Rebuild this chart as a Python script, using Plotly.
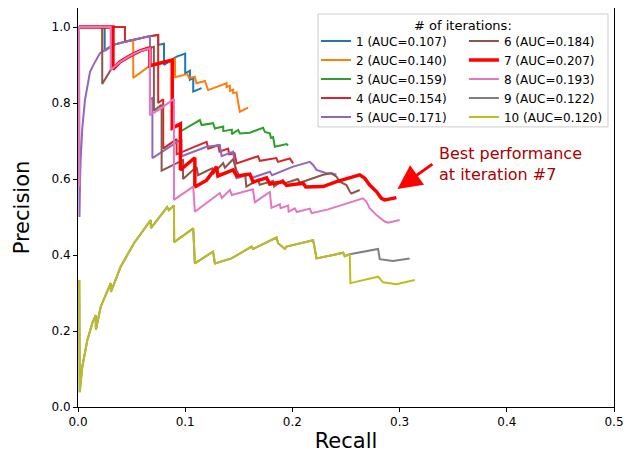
import plotly.graph_objects as go

auc = ["0.107", "0.140", "0.159", "0.154", "0.171", "0.184", "0.207", "0.193", "0.122", "0.120"]
colors = ["#1f77b4", "#ff7f0e", "#2ca02c", "#d62728", "#9467bd",
          "#8c564b", "#ff0000", "#e377c2", "#7f7f7f", "#bcbd22"]

r1 = [0.0009,0.0249,0.0249,0.0329,0.0438,0.0515,0.0597,0.0671,0.0748,0.0748,0.0802,0.0802,0.092,0.1,0.1,0.1044,0.1044,0.1075,0.1075,0.1153]
p1 = [1.0,1.0,0.937,0.953,0.961,0.966,0.972,0.976,0.979,0.953,0.956,0.90,0.922,0.93,0.878,0.885,0.861,0.866,0.83,0.839]

r2 = [0.0009,0.0226,0.0226,0.0329,0.0438,0.0515,0.0515,0.0671,0.0879,0.0905,0.0905,0.102,0.1035,0.109,0.1105,0.1184,0.1214,0.1386,0.1386,0.1417,0.1417,0.1447,0.1447,0.1479,0.1495,0.151,0.1587]
p2 = [1.0,1.0,0.935,0.953,0.961,0.966,0.866,0.898,0.913,0.916,0.868,0.876,0.866,0.869,0.852,0.858,0.834,0.852,0.842,0.845,0.832,0.835,0.826,0.828,0.80,0.777,0.788]

r3 = [0.0009,0.0326,0.0326,0.039,0.0485,0.0578,0.0655,0.0671,0.0671,0.0879,0.0879,0.0955,0.0955,0.1137,0.1153,0.126,0.1277,0.1355,0.1355,0.1435,0.1435,0.1494,0.151,0.1603,0.1727,0.1743,0.179,0.18,0.182,0.1836,0.1945,0.196]
p3 = [1.0,1.0,0.889,0.908,0.924,0.937,0.944,0.944,0.898,0.913,0.734,0.745,0.725,0.755,0.742,0.747,0.733,0.738,0.726,0.73,0.718,0.729,0.72,0.722,0.735,0.724,0.72,0.708,0.71,0.685,0.692,0.688]

r4 = [0.0009,0.0438,0.0438,0.0515,0.0597,0.0671,0.0748,0.0748,0.0795,0.0795,0.092,0.092,0.109,0.12,0.1215,0.1308,0.132,0.14,0.141,0.146,0.1479,0.168,0.1696,0.185,0.1865,0.1976,0.2007]
p4 = [1.0,1.0,0.961,0.966,0.972,0.976,0.979,0.80,0.81,0.68,0.705,0.665,0.685,0.698,0.68,0.689,0.672,0.68,0.665,0.668,0.641,0.66,0.648,0.655,0.645,0.654,0.641]

r5 = [0.0009,0.0014,0.0019,0.0025,0.004,0.0065,0.0087,0.0112,0.0149,0.0205,0.0226,0.0329,0.0438,0.0515,0.0597,0.0671,0.0671,0.0694,0.0694,0.0966,0.0966,0.1075,0.12,0.1323,0.134,0.1447,0.1479,0.16,0.162,0.179,0.181,0.2,0.2163,0.2193,0.2225,0.2317,0.2364,0.2411]
p5 = [1.0,0.5,0.597,0.65,0.734,0.808,0.848,0.882,0.903,0.931,0.935,0.953,0.961,0.966,0.972,0.976,0.81,0.813,0.655,0.705,0.66,0.672,0.685,0.689,0.66,0.672,0.602,0.612,0.603,0.619,0.61,0.632,0.645,0.637,0.624,0.615,0.615,0.611]

r6 = [0.0009,0.0226,0.0226,0.0305,0.039,0.0485,0.0578,0.0655,0.0708,0.0708,0.078,0.078,0.098,0.098,0.1106,0.112,0.125,0.1265,0.1354,0.137,0.1447,0.1463,0.148,0.151,0.156,0.157,0.168,0.1695,0.182,0.183,0.191,0.1925,0.205,0.207,0.2286,0.2364,0.2411,0.2442,0.2504,0.2535,0.255,0.2628]
p6 = [1.0,1.0,0.85,0.887,0.908,0.924,0.937,0.944,0.948,0.78,0.795,0.622,0.65,0.60,0.632,0.61,0.628,0.615,0.642,0.63,0.652,0.637,0.622,0.606,0.612,0.58,0.598,0.585,0.595,0.58,0.597,0.588,0.6,0.59,0.611,0.615,0.606,0.593,0.584,0.567,0.562,0.571]

r7 = [0.0009,0.0326,0.0326,0.039,0.0485,0.0578,0.0655,0.0671,0.0671,0.0879,0.0879,0.0955,0.0955,0.109,0.109,0.12,0.1292,0.1305,0.1447,0.1479,0.1603,0.1634,0.1759,0.1789,0.1913,0.1945,0.21,0.2125,0.2286,0.2411,0.2628,0.2675,0.2721,0.2784,0.283,0.2861,0.2938,0.297]
p7 = [1.0,1.0,0.889,0.908,0.924,0.937,0.944,0.944,0.898,0.913,0.734,0.745,0.624,0.656,0.579,0.597,0.632,0.608,0.624,0.608,0.613,0.592,0.603,0.587,0.593,0.583,0.589,0.579,0.58,0.593,0.611,0.602,0.584,0.567,0.549,0.545,0.549,0.551]

r8 = [0.0012,0.0009,0.0305,0.0305,0.0391,0.0485,0.0578,0.0655,0.0671,0.0671,0.0764,0.0895,0.0895,0.1075,0.109,0.1323,0.1342,0.1417,0.1435,0.1631,0.165,0.1789,0.1805,0.1883,0.189,0.196,0.1965,0.2022,0.2041,0.2163,0.2179,0.2333,0.2659,0.269,0.2721,0.2784,0.2861,0.2892,0.3001]
p8 = [0.58,1.0,1.0,0.887,0.908,0.924,0.937,0.944,0.944,0.768,0.784,0.811,0.545,0.58,0.514,0.563,0.55,0.571,0.558,0.573,0.539,0.566,0.524,0.534,0.523,0.53,0.514,0.523,0.513,0.522,0.51,0.52,0.549,0.54,0.523,0.505,0.488,0.485,0.492]

r9 = [0.0012,0.0016,0.004,0.0087,0.0133,0.0165,0.0167,0.0212,0.0305,0.0307,0.0398,0.0522,0.0678,0.068,0.0832,0.0848,0.0895,0.0897,0.1075,0.109,0.126,0.1277,0.1432,0.1619,0.1634,0.1852,0.1867,0.1929,0.1945,0.2193,0.2209,0.2225,0.2379,0.2473,0.2488,0.2535,0.2799,0.2815,0.2938,0.3094]
p9 = [0.334,0.039,0.106,0.176,0.22,0.242,0.203,0.264,0.326,0.303,0.369,0.431,0.492,0.471,0.526,0.518,0.53,0.434,0.47,0.378,0.409,0.378,0.391,0.422,0.416,0.446,0.431,0.416,0.422,0.439,0.416,0.391,0.4,0.406,0.397,0.402,0.416,0.389,0.384,0.391]

r10 = [0.0012,0.0016,0.004,0.0087,0.0133,0.0165,0.0167,0.0212,0.0305,0.0307,0.0398,0.0522,0.0678,0.068,0.0832,0.0848,0.0895,0.0897,0.1075,0.109,0.126,0.1277,0.1432,0.1619,0.1634,0.1852,0.1867,0.1929,0.1945,0.2193,0.2209,0.2225,0.2379,0.2473,0.2488,0.2535,0.2541,0.2799,0.2845,0.297,0.3141]
p10 = [0.334,0.039,0.106,0.176,0.22,0.242,0.203,0.264,0.326,0.303,0.369,0.431,0.492,0.471,0.526,0.518,0.53,0.434,0.47,0.378,0.409,0.378,0.391,0.422,0.416,0.446,0.431,0.416,0.422,0.439,0.416,0.391,0.4,0.406,0.397,0.402,0.326,0.343,0.328,0.323,0.334]

recalls = [r1, r2, r3, r4, r5, r6, r7, r8, r9, r10]
precisions = [p1, p2, p3, p4, p5, p6, p7, p8, p9, p10]

FONT = "DejaVu Sans"
fig = go.Figure()
for i in range(10):
    fig.add_trace(go.Scatter(
        x=recalls[i], y=precisions[i], mode="lines",
        name=f"{i+1} (AUC={auc[i]})",
        line=dict(color=colors[i], width=3.5 if i == 6 else 2),
        legend="legend" if i < 5 else "legend2",
        hoverinfo="skip",
    ))

legend_common = dict(
    bgcolor="rgba(0,0,0,0)", borderwidth=0,
    font=dict(family=FONT, size=12, color="black"),
    xanchor="left", yanchor="middle", y=0.822,
    traceorder="normal", tracegroupgap=0,
)
# the page body adds an 8px offset, so the figure is 8px smaller in each direction
fig.update_layout(
    width=628, height=451,
    margin=dict(l=70, r=22, t=0, b=52, autoexpand=False),
    plot_bgcolor="white", paper_bgcolor="white",
    font=dict(family=FONT, size=12, color="black"),
    showlegend=True,
    legend=dict(x=0.444, **legend_common),
    legend2=dict(x=0.720, **legend_common),
    xaxis=dict(range=[0, 0.5], dtick=0.1, tickformat=".1f", automargin=False,
               ticks="outside", ticklen=4, tickcolor="black",
               showline=True, linecolor="black", linewidth=1, mirror=True,
               showgrid=False, zeroline=False,
               tickfont=dict(size=12),
               title=dict(text="Recall", font=dict(size=21), standoff=4)),
    yaxis=dict(range=[0, 1.05], dtick=0.2, tickformat=".1f", automargin=False,
               ticks="outside", ticklen=4, tickcolor="black",
               showline=True, linecolor="black", linewidth=1, mirror=True,
               showgrid=False, zeroline=False,
               tickfont=dict(size=12),
               title=dict(text="Precision", font=dict(size=21), standoff=16)),
)

# legend frame and title
fig.add_shape(type="rect", xref="paper", yref="paper",
              x0=0.4478, x1=0.9888, y0=0.702, y1=0.985,
              line=dict(color="#cccccc", width=1),
              fillcolor="rgba(255,255,255,0.8)", layer="above")
fig.add_annotation(text="# of iterations:", xref="paper", yref="paper",
                   x=0.718, y=0.957, xanchor="center", yanchor="middle",
                   showarrow=False, font=dict(family=FONT, size=13, color="black"))

# best performance annotation
fig.add_annotation(x=0.298, y=0.574, ax=0.332, ay=0.642,
                   xref="x", yref="y", axref="x", ayref="y",
                   text="", showarrow=True, arrowhead=2, arrowsize=1.6,
                   arrowwidth=3, arrowcolor="#ff0000")
fig.add_annotation(x=0.3346, y=0.639, xref="x", yref="y",
                   text="Best performance<br>at iteration #7",
                   showarrow=False, xanchor="left", yanchor="middle", align="left",
                   font=dict(family=FONT, size=16, color="#aa0000"))

fig.write_html("out.html")
